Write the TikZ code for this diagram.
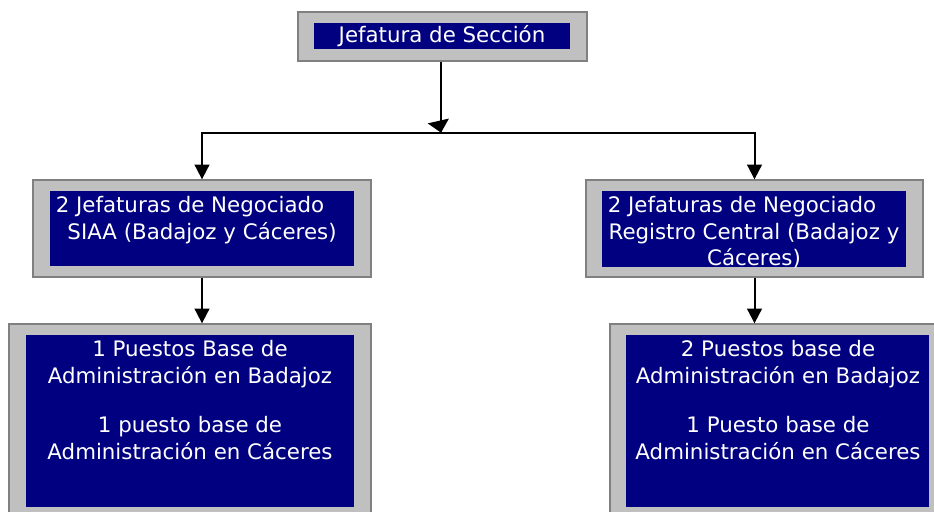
\documentclass[tikz,border=0pt]{standalone}
\usepackage{fontspec}
\setmainfont{DejaVu Sans}
\usetikzlibrary{arrows.meta,fit,calc}

\begin{document}
\begin{tikzpicture}[x=0.75pt,y=0.75pt,yscale=-1,xscale=1,
        marco/.style={draw={rgb, 255:red, 128; green, 128; blue, 128 }, fill={rgb, 255:red, 192; green, 192; blue, 192 }, line width=1pt, inner sep=0pt},
        panel/.style={fill={rgb, 255:red, 0; green, 0; blue, 128 }, inner sep=0pt},
        rotulo/.style={text=white, inner sep=0pt, align=center, font=\fontsize{16}{20}\selectfont},
        flecha/.style={line width=1.5pt, -{Triangle[width=11pt,length=11pt]}}]
        \useasboundingbox (0,0) rectangle (934,511);
        \clip (0,0) rectangle (934,511);

        % Jefatura de Seccion
        \node [marco, fit={(298,12) (587,61)}] (jefSec) {};
        \node [panel, fit={(314,23) (570,49)}] (jefSecIn) {};
        \node [rotulo, anchor=base] (jefSecTx) at (442,42) {Jefatura de Sección};

        % Negociado SIAA
        \node [marco, fit={(33,180) (371,277)}] (negSiaa) {};
        \node [panel, fit={(50,191) (354,266)}] (negSiaaIn) {};
        \node [rotulo, anchor=north] (negSiaaTx) at (202,196) {2 Jefaturas de Negociado\hspace*{18pt}\\SIAA (Badajoz y Cáceres)};

        % Negociado Registro Central
        \node [marco, fit={(586,180) (923,277)}] (negReg) {};
        \node [panel, fit={(602,191) (906,267)}] (negRegIn) {};
        \node [rotulo, anchor=north] (negRegTx) at (754,196) {2 Jefaturas de Negociado\hspace*{18pt}\\Registro Central (Badajoz y\\Cáceres)};

        % Puestos base
        \node [marco, fit={(9,324) (371,520)}] (ptoSiaa) {};
        \node [panel, fit={(26,335) (354,507)}] (ptoSiaaIn) {};
        \node [rotulo, anchor=north] (ptoSiaaTx) at (190,340) {1 Puestos Base de\\Administración en Badajoz\\[17pt]1 puesto base de\\Administración en Cáceres};

        \node [marco, fit={(610,324) (950,520)}] (ptoReg) {};
        \node [panel, fit={(626,335) (929,507)}] (ptoRegIn) {};
        \node [rotulo, anchor=north] (ptoRegTx) at (778,340) {2 Puestos base de\\Administración en Badajoz\\[17pt]1 Puesto base de\\Administración en Cáceres};

        % Conectores
        \coordinate (cruce) at ($(jefSec.south)+(-1.5,71)$);
        \draw [line width=1.5pt] (jefSec.south -| cruce) -- (cruce);
        \draw [line width=1.5pt, -{Triangle[width=16pt,length=9pt]}] ($(cruce)+(-2.5,-11)$) -- (cruce);
        \draw [flecha] (cruce) -| (negSiaa.north);
        \draw [flecha] (cruce) -| (negReg.north);
        \draw [flecha] (negSiaa.south) -- (negSiaa.south |- ptoSiaa.north);
        \draw [flecha] (negReg.south) -- (negReg.south |- ptoReg.north);

\end{tikzpicture}
\end{document}
